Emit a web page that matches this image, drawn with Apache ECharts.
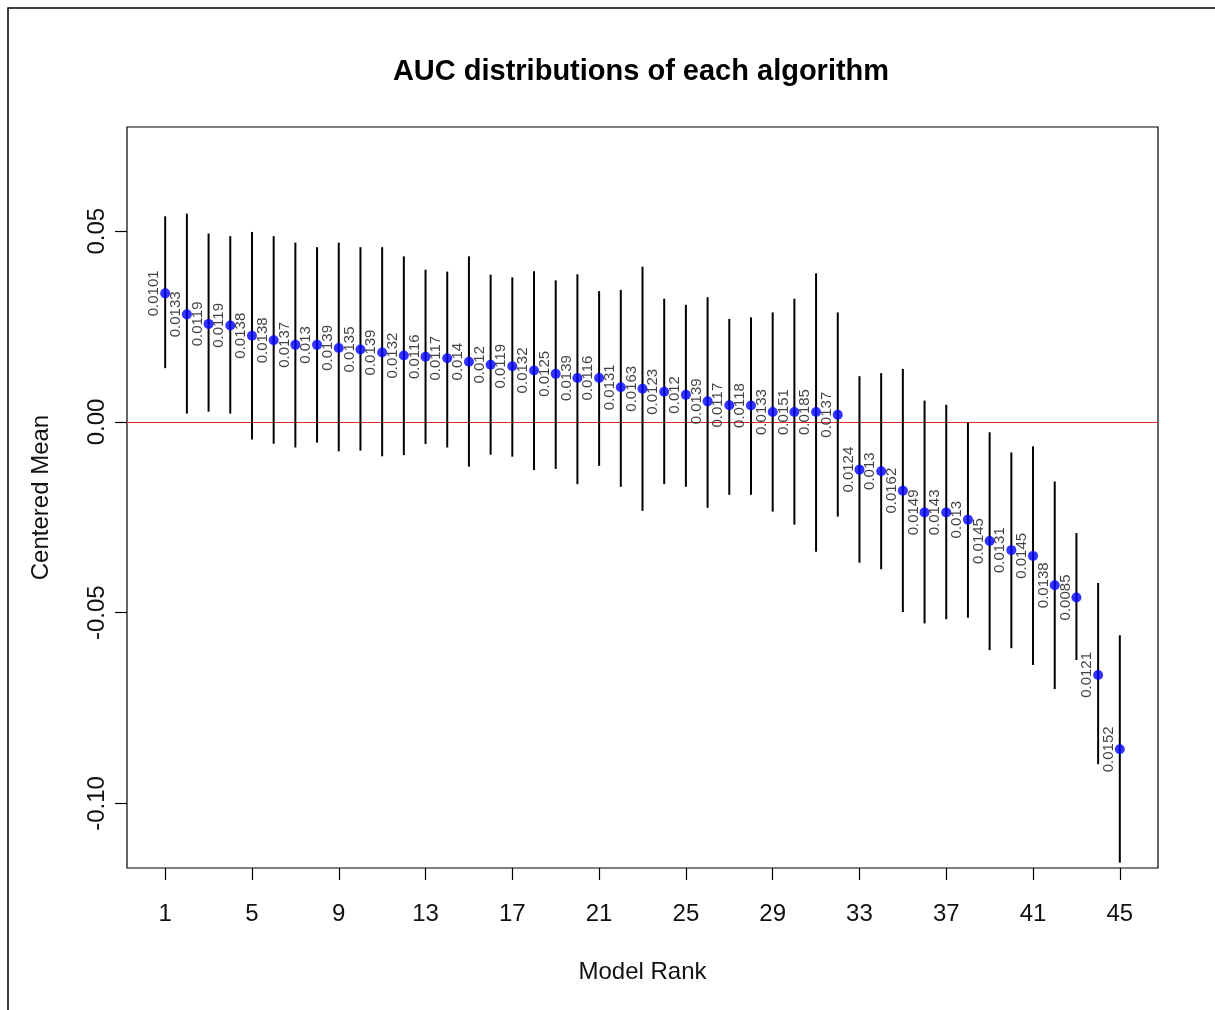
<!DOCTYPE html>
<html><head><meta charset="utf-8">
<script src="https://cdn.jsdelivr.net/npm/echarts@6/dist/echarts.min.js"></script>
<style>html,body{margin:0;padding:0;background:#fff}#c{width:1215px;height:1010px}</style>
</head><body><div id="c"></div>
<script>
const ranks = [1,2,3,4,5,6,7,8,9,10,11,12,13,14,15,16,17,18,19,20,21,22,23,24,25,26,27,28,29,30,31,32,33,34,35,36,37,38,39,40,41,42,43,44,45];
const means = [0.0337,0.0282,0.0257,0.0253,0.0226,0.0214,0.0202,0.0202,0.0194,0.0190,0.0182,0.0174,0.0171,0.0167,0.0158,0.0150,0.0146,0.0135,0.0126,0.0115,0.0115,0.0091,0.0087,0.0079,0.0071,0.0054,0.0044,0.0043,0.0026,0.0026,0.0026,0.0019,-0.0125,-0.0129,-0.0180,-0.0237,-0.0237,-0.0256,-0.0312,-0.0336,-0.0351,-0.0428,-0.0460,-0.0663,-0.0858];
const upper = [0.0539,0.0546,0.0494,0.0487,0.0498,0.0487,0.0470,0.0458,0.0470,0.0458,0.0458,0.0434,0.0399,0.0394,0.0434,0.0386,0.0379,0.0395,0.0371,0.0387,0.0343,0.0346,0.0407,0.0323,0.0307,0.0327,0.0270,0.0274,0.0287,0.0323,0.0390,0.0287,0.0120,0.0128,0.0139,0.0056,0.0045,-0.0001,-0.0027,-0.0080,-0.0064,-0.0156,-0.0291,-0.0422,-0.0559];
const lower = [0.0141,0.0022,0.0027,0.0022,-0.0046,-0.0057,-0.0067,-0.0054,-0.0077,-0.0075,-0.0090,-0.0087,-0.0058,-0.0067,-0.0117,-0.0086,-0.0091,-0.0126,-0.0123,-0.0163,-0.0115,-0.0170,-0.0233,-0.0163,-0.0170,-0.0225,-0.0191,-0.0191,-0.0235,-0.0269,-0.0340,-0.0248,-0.0369,-0.0386,-0.0498,-0.0528,-0.0517,-0.0513,-0.0598,-0.0593,-0.0637,-0.0700,-0.0624,-0.0897,-0.1155];
const labels = ["0.0101","0.0133","0.0119","0.0119","0.0138","0.0138","0.0137","0.013","0.0139","0.0135","0.0139","0.0132","0.0116","0.0117","0.014","0.012","0.0119","0.0132","0.0125","0.0139","0.0116","0.0131","0.0163","0.0123","0.012","0.0139","0.0117","0.0118","0.0133","0.0151","0.0185","0.0137","0.0124","0.013","0.0162","0.0149","0.0143","0.013","0.0145","0.0131","0.0145","0.0138","0.0085","0.0121","0.0152"];
const xTicks = [1,5,9,13,17,21,25,29,33,37,41,45];
const yTicks = [-0.10,-0.05,0.00,0.05];

const FONT = 'Liberation Sans';
const chart = echarts.init(document.getElementById('c'), null, {renderer:'canvas'});
chart.setOption({
  backgroundColor:'#fff',
  animation:false,
  title:{
    text:'AUC distributions of each algorithm',
    left:636, top:52, textAlign:'center',
    textStyle:{fontFamily:FONT, fontSize:29, fontWeight:'bold', color:'#000'}
  },
  graphic:[
    {type:'polyline', shape:{points:[[8,1012],[8,8],[1216,8]]}, style:{stroke:'#000', lineWidth:1.5, fill:null}, silent:true}
  ],
  grid:{left:127, right:57, top:127, bottom:142, show:true, borderColor:'#000', borderWidth:1.2, backgroundColor:'transparent'},
  xAxis:{
    type:'value', min:-0.76, max:46.76,
    name:'Model Rank', nameLocation:'middle', nameGap:92,
    nameTextStyle:{fontFamily:FONT, fontSize:24, color:'#111'},
    axisLine:{show:false, onZero:false},
    axisTick:{show:true, inside:false, length:12, customValues:xTicks, lineStyle:{color:'#000', width:1.2}},
    axisLabel:{customValues:xTicks, margin:34, fontFamily:FONT, fontSize:24, color:'#111', formatter:v=>String(v)},
    splitLine:{show:false}
  },
  yAxis:{
    type:'value', min:-0.1169, max:0.0773,
    name:'Centered Mean', nameLocation:'middle', nameGap:74, nameRotate:90,
    nameTextStyle:{fontFamily:FONT, fontSize:24, color:'#111'},
    axisLine:{show:false, onZero:false},
    axisTick:{show:true, inside:false, length:12, customValues:yTicks, lineStyle:{color:'#000', width:1.2}},
    axisLabel:{customValues:yTicks, rotate:90, margin:18, fontFamily:FONT, fontSize:24, color:'#111', formatter:v=>v.toFixed(2)},
    splitLine:{show:false}
  },
  series:[
    {
      type:'custom', z:3,
      data: ranks.map((r,i)=>[r, lower[i], upper[i]]),
      encode:{x:0, y:[1,2]},
      renderItem:(params, api)=>{
        const x = api.value(0), lo = api.value(1), hi = api.value(2);
        const p1 = api.coord([x, lo]), p2 = api.coord([x, hi]);
        return {type:'line', shape:{x1:p1[0], y1:p1[1], x2:p2[0], y2:p2[1]}, style:{stroke:'#000', lineWidth:2}};
      },
      markLine:{
        silent:true, symbol:'none', z:1,
        label:{show:false},
        lineStyle:{color:'#dd2a2a', width:1.2, type:'solid'},
        data:[{yAxis:0}]
      }
    },
    {
      type:'scatter', z:4,
      data: ranks.map((r,i)=>[r, means[i]]),
      symbol:'circle', symbolSize:10,
      itemStyle:{color:'#0000ff'},
      label:{
        show:true, formatter:p=>labels[p.dataIndex],
        position:[5,5], align:'center', verticalAlign:'middle',
        rotate:90, offset:[0,-11],
        fontFamily:FONT, fontSize:15, color:'#111'
      }
    }
  ]
});
</script>
</body></html>
